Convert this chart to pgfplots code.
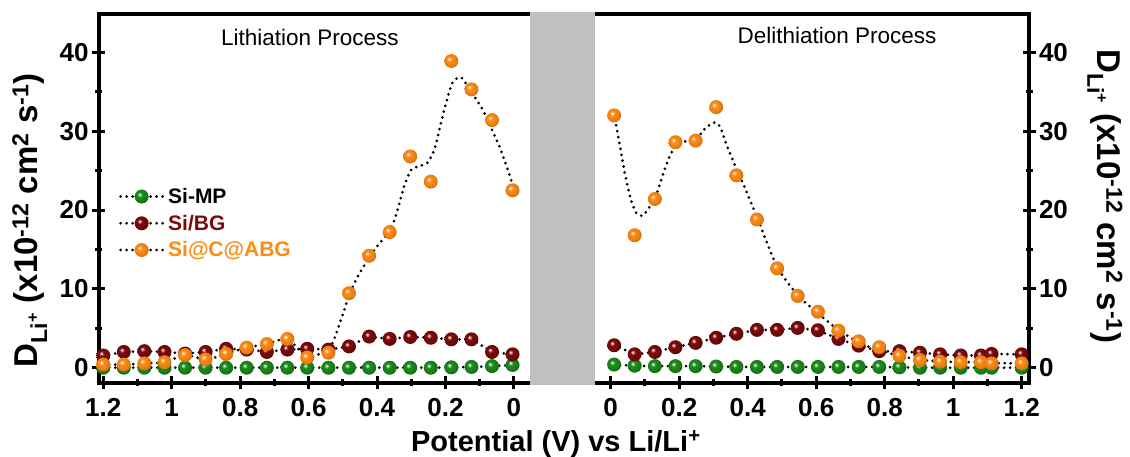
\documentclass[border=0pt]{standalone}
\usepackage{fontspec}
\setmainfont{Liberation Sans}
\usepackage{pgfplots}
\usepackage{pgfplotstable}
\pgfplotsset{compat=1.18}

\definecolor{cG}{RGB}{28,140,28}
\definecolor{cR}{RGB}{125,10,10}
\definecolor{cO}{RGB}{255,138,20}
\definecolor{barg}{RGB}{192,192,192}

\pgfdeclareradialshading{ballG}{\pgfpoint{-8bp}{8bp}}{color(0bp)=(white); color(3bp)=(white!65!cG); color(9bp)=(cG); color(21bp)=(cG!88!black); color(25bp)=(cG!78!black); color(50bp)=(cG!78!black)}
\pgfdeclareradialshading{ballR}{\pgfpoint{-8bp}{8bp}}{color(0bp)=(white); color(3bp)=(white!65!cR); color(9bp)=(cR); color(21bp)=(cR!88!black); color(25bp)=(cR!78!black); color(50bp)=(cR!78!black)}
\pgfdeclareradialshading{ballO}{\pgfpoint{-8bp}{8bp}}{color(0bp)=(white); color(3bp)=(white!65!cO); color(9bp)=(cO); color(21bp)=(cO!92!black); color(25bp)=(cO!85!black); color(50bp)=(cO!85!black)}
\pgfdeclareplotmark{bG}{\pgfpathcircle{\pgfpointorigin}{\pgfplotmarksize}\pgfshadepath{ballG}{0}\pgfusepath{}}
\pgfdeclareplotmark{bR}{\pgfpathcircle{\pgfpointorigin}{\pgfplotmarksize}\pgfshadepath{ballR}{0}\pgfusepath{}}
\pgfdeclareplotmark{bO}{\pgfpathcircle{\pgfpointorigin}{\pgfplotmarksize}\pgfshadepath{ballO}{0}\pgfusepath{}}

\newcommand\tickfont{\fontsize{26}{26}\selectfont\bfseries}
\newcommand\labfont{\fontsize{33}{33}\selectfont\bfseries}
\newcommand\xlabfont{\fontsize{29}{29}\selectfont\bfseries}
\newcommand\legfont{\fontsize{21}{25}\selectfont\bfseries}
\newcommand\titfont{\fontsize{22.5}{22.5}\selectfont}

% Lithiation: potential, Si-MP, Si/BG, Si@C@ABG
\pgfplotstableread{
x g r o
1.200 0.00 1.55 0.40
1.140 0.00 2.00 0.40
1.080 0.00 2.10 0.55
1.021 0.00 2.00 0.70
0.961 0.00 1.80 1.60
0.901 0.00 2.00 1.05
0.841 0.00 2.40 1.75
0.781 0.00 2.30 2.55
0.722 0.00 2.00 3.00
0.662 0.00 2.30 3.65
0.604 0.00 2.40 1.30
0.542 0.00 2.30 1.90
0.482 0.00 2.70 9.45
0.423 0.00 3.95 14.20
0.363 0.00 3.65 17.20
0.303 0.00 3.90 26.80
0.243 0.00 3.80 23.60
0.183 0.05 3.60 38.90
0.124 0.10 3.60 35.30
0.064 0.20 2.00 31.40
0.004 0.35 1.70 22.50
}\lith

\pgfplotstableread{
x y
1.200 0.40
1.140 0.40
1.080 0.55
1.021 0.70
0.961 1.60
0.901 1.05
0.841 1.75
0.781 2.55
0.722 3.00
0.662 3.65
0.604 1.30
0.562 1.90
0.530 3.15
0.499 6.90
0.481 9.30
0.457 11.50
0.420 14.20
0.394 15.70
0.361 17.50
0.342 19.70
0.321 23.00
0.300 25.10
0.274 25.60
0.253 26.00
0.232 27.70
0.206 32.30
0.180 36.10
0.154 36.80
0.122 34.80
0.091 32.70
0.060 29.80
0.039 27.70
0.018 25.10
0.002 23.00
}\lithcurve

% Delithiation
\pgfplotstableread{
x g r o
0.010 0.40 2.85 32.00
0.070 0.25 1.70 16.80
0.129 0.20 2.00 21.40
0.189 0.20 2.60 28.60
0.248 0.20 3.15 28.80
0.308 0.15 3.80 33.05
0.367 0.10 4.30 24.40
0.427 0.10 4.80 18.80
0.486 0.10 4.80 12.60
0.546 0.10 5.05 9.10
0.605 0.10 4.75 7.10
0.665 0.10 3.65 4.70
0.724 0.10 2.80 3.35
0.784 0.10 2.10 2.60
0.843 0.05 2.10 1.50
0.903 0.00 1.90 0.97
0.962 0.00 1.70 0.76
1.022 0.00 1.55 0.70
1.081 0.00 1.55 0.70
1.112 0.00 1.75 0.55
1.200 0.00 1.70 0.55
}\delith

\pgfplotstableread{
x y
0.013 31.5
0.027 28.1
0.043 24.3
0.059 21.3
0.075 19.6
0.094 19.3
0.112 20.3
0.130 21.5
0.154 24.7
0.170 26.6
0.189 28.1
0.218 28.7
0.249 29.0
0.277 30.4
0.303 31.1
0.319 30.6
0.340 28.1
0.368 25.1
0.394 22.6
0.426 19.2
0.486 12.8
0.546 9.2
0.605 6.9
0.665 4.8
0.724 3.2
0.784 2.2
0.843 1.5
0.903 1.0
0.962 0.8
1.022 0.7
1.081 0.7
1.112 0.6
1.200 0.55
}\delithcurve

\pgfplotsset{
  panel/.style={
    scale only axis, height=369pt,
    ymin=-1.9, ymax=44.9,
    axis line style={line width=4pt, line cap=rect},
    tick align=center, major tick length=13pt, minor tick length=7pt,
    every tick/.style={black, line width=3pt},
    ytick={0,10,20,30,40}, minor y tick num=1,
    xtick={0,0.2,0.4,0.6,0.8,1,1.2}, minor x tick num=1,
    xtick pos=left,
    tick label style={font=\tickfont},
    /pgf/number format/assume math mode=true,
    xticklabel style={yshift=-6pt},
  },
  dl/.style={black, line width=3pt, dash pattern=on 0pt off 6pt, line cap=round},
}

\begin{document}
\begin{tikzpicture}
\useasboundingbox (-98.7pt,-74.3pt) rectangle (1031.3pt,382.7pt);

\begin{axis}[panel, name=left, at={(0pt,0pt)}, anchor=south west,
  width=431.3pt, x dir=reverse, xmin=-0.047, xmax=1.2134,
  axis x line*=box, axis y line*=left, ytick pos=left,
  xlabel={Potential (V) vs Li/Li\textsuperscript{+}},
  xlabel style={font=\xlabfont, at={(axis description cs:1.060,-0.187)}, anchor=base},
  ylabel={D\textsubscript{Li\textsuperscript{+}} (x10\textsuperscript{-12} cm\textsuperscript{2} s\textsuperscript{-1})},
  ylabel style={font=\labfont, at={(axis description cs:-0.16,0.44)}, anchor=center},
  legend style={draw=none, fill=none, at={(axis description cs:0.047,0.432)}, anchor=west,
    font=\legfont, row sep=6pt, inner sep=0pt, column sep=2pt},
  legend cell align=left,
  legend image code/.code={\draw[mark repeat=2,mark phase=2,#1] plot coordinates {(0pt,0pt)(21pt,0pt)(42pt,0pt)};},
]
\addlegendimage{dl, mark=bG, mark size=7pt}
\addlegendentry{Si-MP}
\addlegendimage{dl, mark=bR, mark size=7pt}
\addlegendentry{\textcolor{cR}{Si/BG}}
\addlegendimage{dl, mark=bO, mark size=7pt}
\addlegendentry{\textcolor{cO}{Si@C@ABG}}

\addplot[dl, mark=bG, mark size=7pt, forget plot] table[x=x,y=g]{\lith};
\addplot[dl, mark=bR, mark size=7pt, forget plot] table[x=x,y=r]{\lith};
\addplot[dl, smooth, tension=0.4, forget plot] table[x=x,y=y]{\lithcurve};
\addplot[only marks, mark=bO, mark size=7pt, forget plot] table[x=x,y=o]{\lith};
\node[font=\titfont, anchor=base] at (rel axis cs:0.4896,0.9135) {Lithiation Process};
\end{axis}

\begin{axis}[panel, name=right, at={(496.3pt,0pt)}, anchor=south west,
  width=434pt, xmin=-0.0458, xmax=1.2213,
  axis x line*=box, axis y line*=right, ytick pos=right,
  ylabel={D\textsubscript{Li\textsuperscript{+}} (x10\textsuperscript{-12} cm\textsuperscript{2} s\textsuperscript{-1})},
  ylabel style={font=\labfont, at={(axis description cs:1.175,0.505)}, anchor=center, rotate=180},
]
\addplot[dl, mark=bG, mark size=7pt] table[x=x,y=g]{\delith};
\addplot[dl, mark=bR, mark size=7pt] table[x=x,y=r]{\delith};
\addplot[dl, smooth, tension=0.4] table[x=x,y=y]{\delithcurve};
\addplot[only marks, mark=bO, mark size=7pt] table[x=x,y=o]{\delith};
\node[font=\titfont, anchor=base] at (rel axis cs:0.5576,0.919) {Delithiation Process};
\end{axis}

\fill[barg] (431.3pt,-2pt) rectangle (496.3pt,371pt);
\end{tikzpicture}
\end{document}
